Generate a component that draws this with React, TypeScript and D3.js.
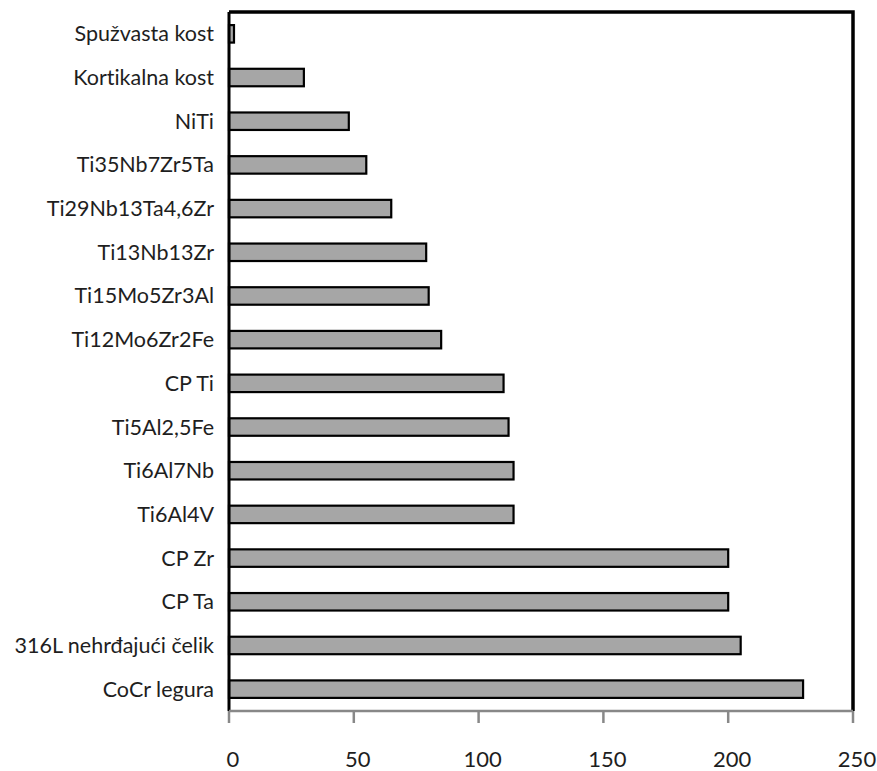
import React, { useEffect } from 'react';
import * as d3 from 'd3';

// categories listed top to bottom, as they appear in the chart
const categories = [
  'Spužvasta kost',
  'Kortikalna kost',
  'NiTi',
  'Ti35Nb7Zr5Ta',
  'Ti29Nb13Ta4,6Zr',
  'Ti13Nb13Zr',
  'Ti15Mo5Zr3Al',
  'Ti12Mo6Zr2Fe',
  'CP Ti',
  'Ti5Al2,5Fe',
  'Ti6Al7Nb',
  'Ti6Al4V',
  'CP Zr',
  'CP Ta',
  '316L nehrđajući čelik',
  'CoCr legura',
];
const values = [2, 30, 48, 55, 65, 79, 80, 85, 110, 112, 114, 114, 200, 200, 205, 230];
const xTicks = [0, 50, 100, 150, 200, 250];

const W = 877;
const H = 771;
const margin = { top: 12, right: 24, bottom: 60, left: 229 };
const FONT = 'Lato, "Open Sans", sans-serif';

const App: React.FC = () => {
  useEffect(() => {
    document.body.style.margin = '0';
  }, []);

  const x = d3.scaleLinear().domain([0, 250]).range([margin.left, W - margin.right]);
  const y = d3
    .scaleBand<string>()
    .domain(categories)
    .range([margin.top, H - margin.bottom])
    .paddingInner(0.6)
    .paddingOuter(0.3);

  const x0 = x(0);
  const x1 = x(250);
  const yTop = margin.top;
  const yBot = H - margin.bottom;

  return (
    <svg
      width={W}
      height={H}
      style={{ display: 'block', background: '#fff', fontVariantLigatures: 'none' }}
    >
      {/* bars */}
      {categories.map((c, i) => (
        <rect
          key={c}
          x={x0}
          y={y(c)!}
          width={x(values[i]) - x0}
          height={y.bandwidth()}
          fill="#a6a6a6"
          stroke="#000"
          strokeWidth={2.2}
        />
      ))}

      {/* category labels */}
      {categories.map(c => (
        <text
          key={c}
          x={x0 - 15}
          y={y(c)! + y.bandwidth() / 2}
          dy="0.35em"
          textAnchor="end"
          fontFamily={FONT}
          fontSize={21.5}
          fill="#1e1e1e"
        >
          {c}
        </text>
      ))}

      {/* frame: top and right */}
      <path
        d={`M${x0},${yTop} L${x1},${yTop} L${x1},${yBot}`}
        fill="none"
        stroke="#000"
        strokeWidth={3.5}
      />
      {/* left axis */}
      <line x1={x0} x2={x0} y1={yTop} y2={yBot} stroke="#000" strokeWidth={3} />

      {/* bottom axis */}
      <line x1={x0} x2={x1} y1={yBot} y2={yBot} stroke="#888" strokeWidth={2.5} />
      {xTicks.map(t => (
        <g key={t}>
          <line x1={x(t)} x2={x(t)} y1={yBot} y2={yBot + 12} stroke="#888" strokeWidth={2.5} />
          <text
            x={x(t) + 4}
            y={yBot + 56}
            textAnchor="middle"
            fontFamily={FONT}
            fontSize={22}
            fill="#1e1e1e"
          >
            {t}
          </text>
        </g>
      ))}
    </svg>
  );
};

export default App;
